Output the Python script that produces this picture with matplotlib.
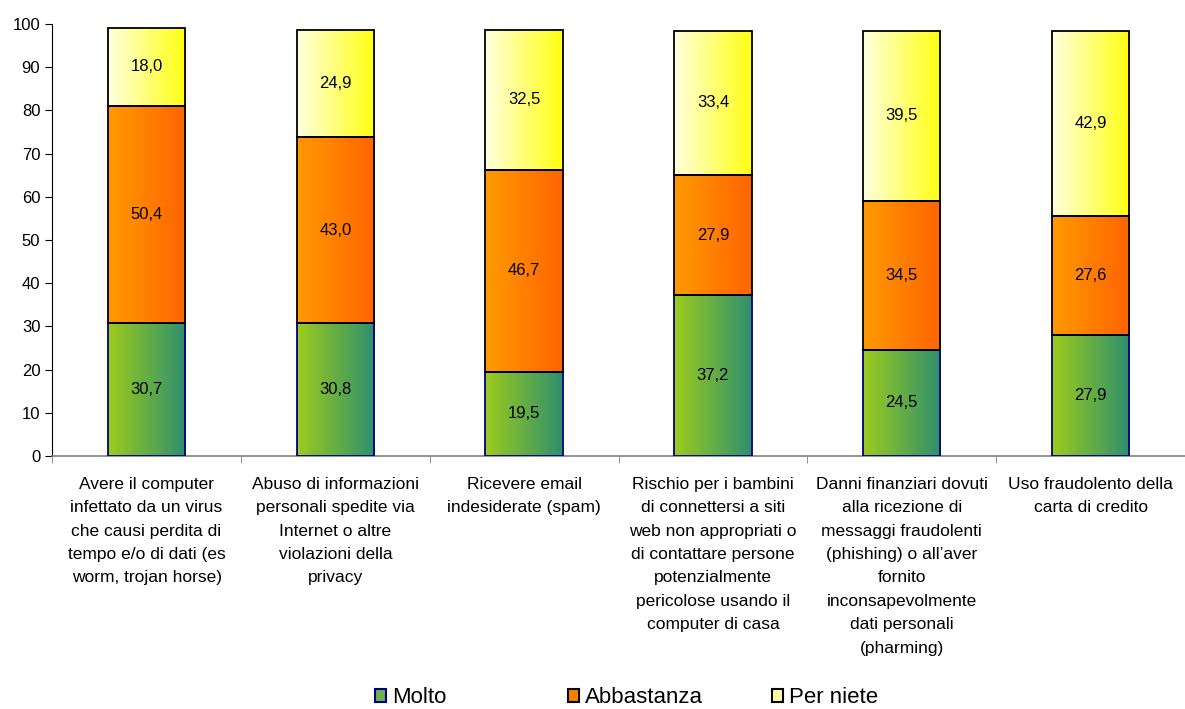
import numpy as np
import matplotlib.pyplot as plt
from matplotlib.colors import LinearSegmentedColormap
from matplotlib.patches import Patch

plt.rcParams['font.family'] = ['Liberation Sans', 'DejaVu Sans']

categories = [
    "Avere il computer\ninfettato da un virus\nche causi perdita di\ntempo e/o di dati (es\nworm, trojan horse)",
    "Abuso di informazioni\npersonali spedite via\nInternet o altre\nviolazioni della\nprivacy",
    "Ricevere email\nindesiderate (spam)",
    "Rischio per i bambini\ndi connettersi a siti\nweb non appropriati o\ndi contattare persone\npotenzialmente\npericolose usando il\ncomputer di casa",
    "Danni finanziari dovuti\nalla ricezione di\nmessaggi fraudolenti\n(phishing) o all\u2019aver\nfornito\ninconsapevolmente\ndati personali\n(pharming)",
    "Uso fraudolento della\ncarta di credito",
]
molto = [30.7, 30.8, 19.5, 37.2, 24.5, 27.9]
abbastanza = [50.4, 43.0, 46.7, 27.9, 34.5, 27.6]
per_niente = [18.0, 24.9, 32.5, 33.4, 39.5, 42.9]
series_names = ["Molto", "Abbastanza", "Per niete"]

# gradienti orizzontali (sinistra -> destra) e colori del bordo
gradients = [("#9dcc1c", "#2e8f6e"), ("#ff9a00", "#ff6400"), ("#ffffe0", "#ffff10")]
edges = ["#000080", "black", "black"]
legend_fill = ["#6fb24a", "#ff7f00", "#ffffa0"]

fig = plt.figure(figsize=(11.85, 7.09), dpi=100)
ax = fig.add_axes([0.044, 0.357, 0.956, 0.609])

x = np.arange(len(categories))
width = 0.41
grad = np.linspace(0, 1, 256).reshape(1, -1)

bottom = np.zeros(len(categories))
for vals, name, (c0, c1), ec in zip([molto, abbastanza, per_niente], series_names, gradients, edges):
    cmap = LinearSegmentedColormap.from_list(name, [c0, c1])
    bars = ax.bar(x, vals, width, bottom=bottom, facecolor="none", edgecolor=ec, linewidth=1.3, zorder=3)
    for b, v in zip(bars, vals):
        x0, y0 = b.get_x(), b.get_y()
        im = ax.imshow(grad, cmap=cmap, aspect="auto", extent=[x0, x0 + b.get_width(), y0, y0 + b.get_height()], zorder=2)
        im.set_clip_path(b)
        ax.text(x0 + b.get_width() / 2, y0 + v / 2, f"{v:.1f}".replace(".", ","),
                ha="center", va="center", fontsize=12, zorder=4)
    bottom += np.array(vals)

ax.set_xlim(-0.5, len(categories) - 0.5)
ax.set_ylim(0, 100)
ax.set_yticks(range(0, 101, 10))
ax.tick_params(axis="y", labelsize=12, length=5, direction="out")

ax.set_xticks(x)
ax.set_xticklabels(categories, fontsize=12.5, linespacing=1.7)
ax.set_xticks(np.arange(-0.5, len(categories)), minor=True)
ax.tick_params(axis="x", which="major", length=0, pad=15)
ax.tick_params(axis="x", which="minor", length=5, color="#808080")

for s in ["top", "right"]:
    ax.spines[s].set_visible(False)
ax.spines["bottom"].set_color("#808080")
ax.spines["bottom"].set_linewidth(1.2)

# legenda: una voce per colonna, posizioni fisse come nell'originale
for name, fc, ec, lx in zip(series_names, legend_fill, edges, [0.309, 0.472, 0.644]):
    leg = fig.legend(handles=[Patch(facecolor=fc, edgecolor=ec, linewidth=1.5, label=name)],
                     loc="center left", bbox_to_anchor=(lx, 0.016), frameon=False, fontsize=16,
                     handlelength=0.5, handleheight=0.5, handletextpad=0.25, borderaxespad=0)

fig.savefig("out.png", dpi=100)
